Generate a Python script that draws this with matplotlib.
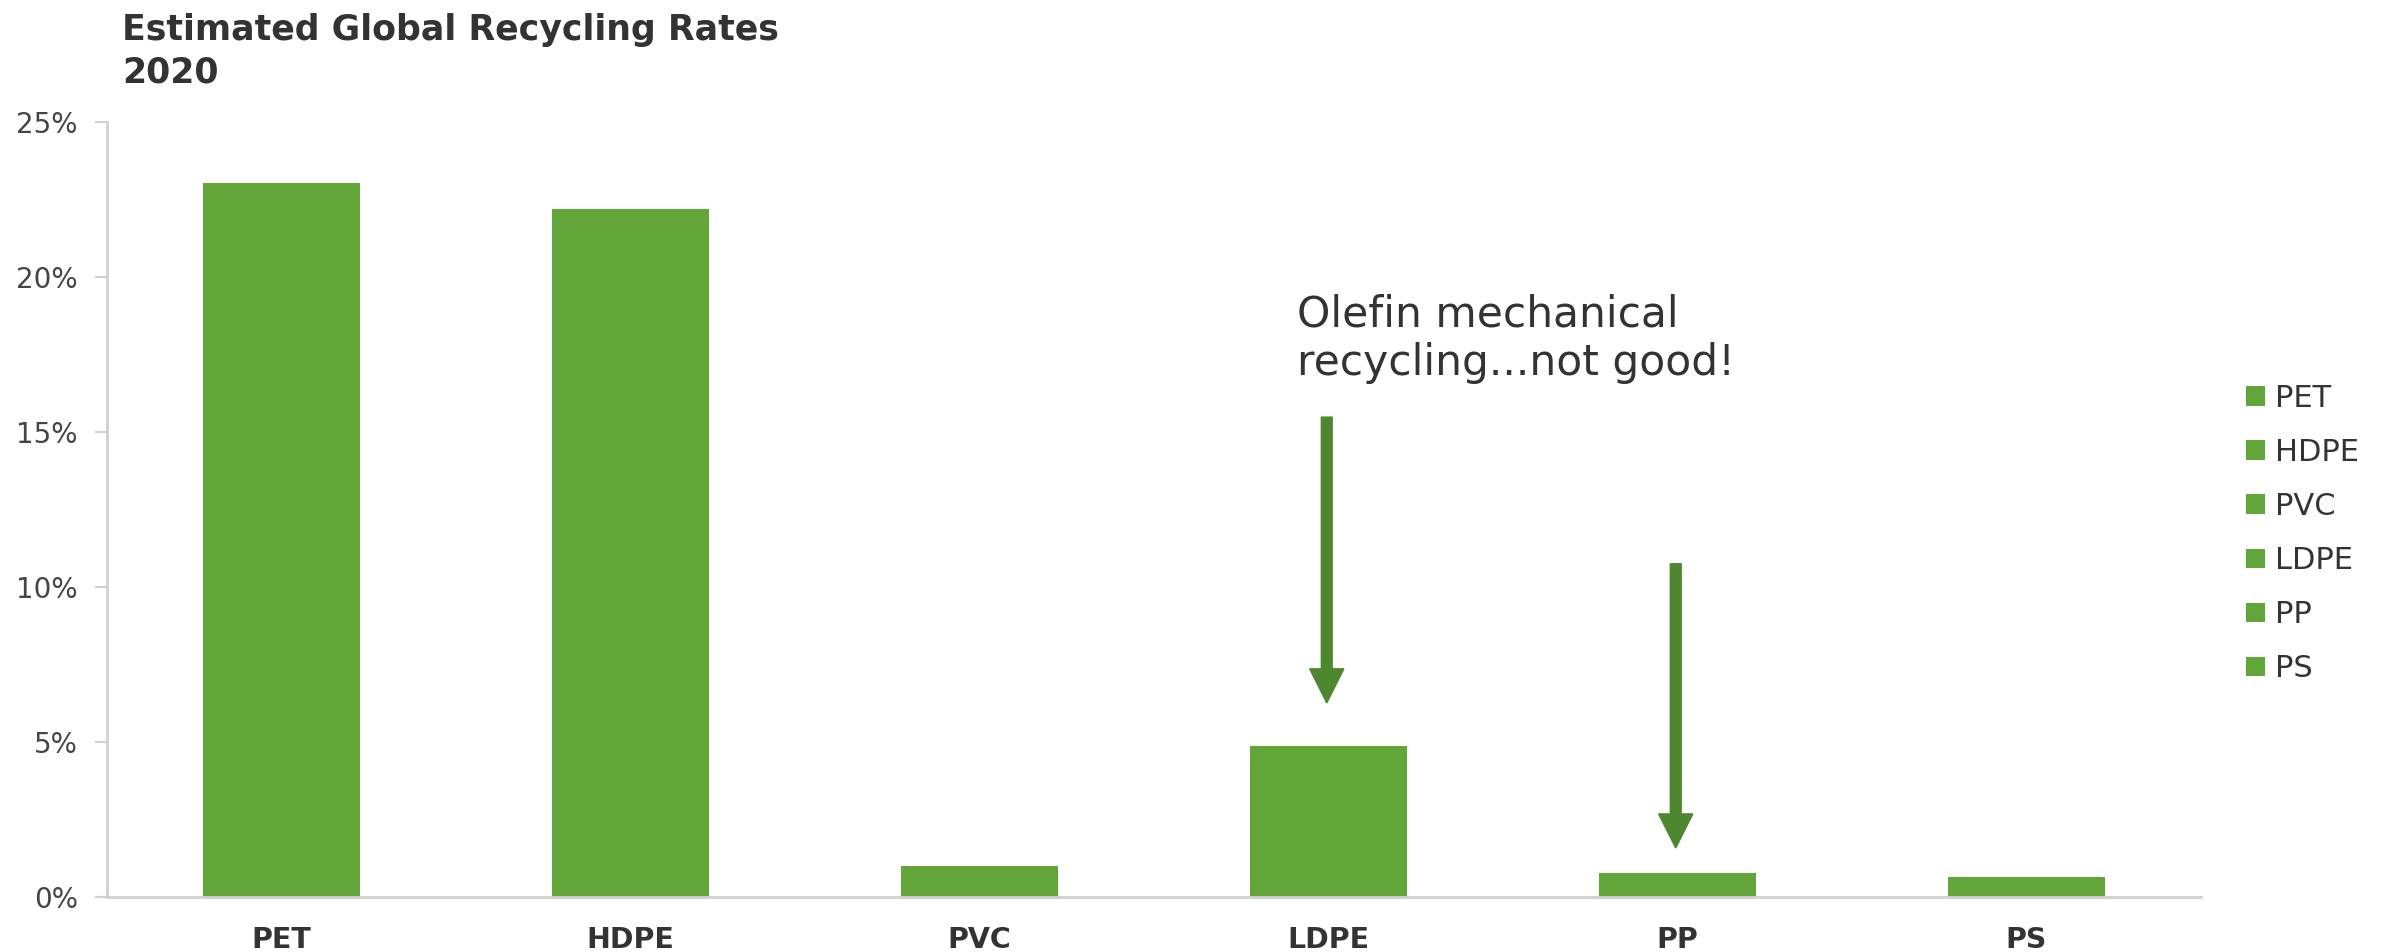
import matplotlib
matplotlib.use("Agg")
import matplotlib.pyplot as plt
from matplotlib.ticker import PercentFormatter, FixedLocator

# Data
categories = ["PET", "HDPE", "PVC", "LDPE", "PP", "PS"]
rates = [0.2302, 0.2218, 0.0101, 0.0487, 0.0078, 0.0066]
y_ticks = [0.0, 0.05, 0.10, 0.15, 0.20, 0.25]

# Callout arrows (category index, start value, end value)
arrow_cats = [3, 4]
arrow_start = [0.1548, 0.1075]
arrow_end = [0.0626, 0.0158]

title = "Estimated Global Recycling Rates\n2020"
note = "Olefin mechanical\nrecycling...not good!"

BAR = "#62a539"
ARROW = "#4f8730"
TEXT = "#333333"
TICK_TEXT = "#454545"
AXIS = "#d0d0d0"

plt.rcParams["font.family"] = ["DejaVu Sans"]

W, H = 2397, 952
fig = plt.figure(figsize=(W / 100, H / 100), dpi=100)
ax = fig.add_axes([107 / W, 1 - 897 / H, (2201 - 107) / W, (897 - 122) / H])

x = list(range(len(categories)))
bars = ax.bar(x, rates, width=0.451, color=BAR, zorder=2)
for b, lab in zip(bars, categories):
    b.set_label(lab)

ax.set_xlim(-0.5, len(categories) - 0.5)
ax.set_ylim(0, 0.25)
ax.yaxis.set_major_locator(FixedLocator(y_ticks))
ax.yaxis.set_major_formatter(PercentFormatter(1.0, decimals=0))
ax.set_xticks(x)
ax.set_xticklabels(categories, fontsize=20.5, fontweight="bold", color=TEXT)

for s in ["top", "right"]:
    ax.spines[s].set_visible(False)
for s in ["left", "bottom"]:
    ax.spines[s].set_color(AXIS)
    ax.spines[s].set_linewidth(2)

ax.tick_params(axis="y", length=9, width=1.5, color=AXIS, pad=12,
               labelsize=20, labelcolor=TICK_TEXT)
ax.tick_params(axis="x", length=0, pad=21)

# Arrows pointing at the olefin bars
for c, y0, y1 in zip(arrow_cats, arrow_start, arrow_end):
    ax.arrow(c - 0.005, y0, 0, y1 - y0, width=0.031, head_width=0.098,
             head_length=0.011, length_includes_head=True,
             color=ARROW, zorder=3)

ax.text(2.91, 0.1948, note, fontsize=30.5, color=TEXT, ha="left", va="top",
        linespacing=1.2)

# Title
fig.text(122 / W, 1 - 13 / H, title, fontsize=25, fontweight="bold",
         color=TEXT, ha="left", va="top", linespacing=1.3)

# Legend
leg = fig.legend(handles=list(bars), loc="center left",
                 bbox_to_anchor=(2234 / W, 1 - 533.5 / H),
                 frameon=False, fontsize=22, handlelength=0.6,
                 handleheight=0.6, handletextpad=0.33, labelspacing=0.82,
                 borderaxespad=0, labelcolor=TEXT)

fig.savefig("out.png", dpi=100, facecolor="white")
